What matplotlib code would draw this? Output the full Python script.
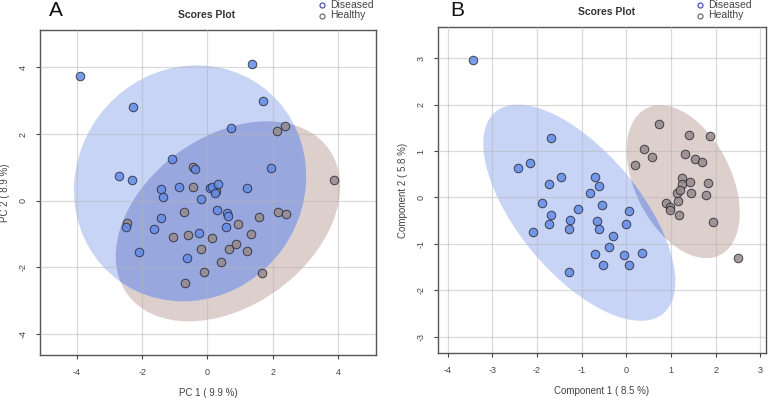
import numpy as np
import matplotlib
matplotlib.use("Agg")
import matplotlib.pyplot as plt
from matplotlib.patches import Ellipse

plt.rcParams['font.family'] = ['Liberation Sans', 'DejaVu Sans']

# ---------------- data ----------------
# Panel A (PCA)
a_dis_x = [-3.91, 1.37, -2.27, 1.70, 0.72, -1.09, -0.38, 1.96, -2.71, -2.32, -1.42, -0.88,
           0.08, 0.15, 0.32, 0.24, 1.23, -1.35, -0.20, 0.30, 0.59, 0.64, -2.50, -1.42,
           -1.64, 0.57, -0.26, -2.09, -0.62]
a_dis_y = [3.74, 4.11, 2.80, 2.98, 2.19, 1.26, 0.94, 0.98, 0.73, 0.62, 0.36, 0.41,
           0.38, 0.42, 0.50, 0.24, 0.39, 0.10, 0.06, -0.28, -0.36, -0.46, -0.78, -0.52,
           -0.84, -0.80, -0.98, -1.53, -1.73]
a_hea_x = [2.14, 2.38, -0.43, 3.88, -0.45, 0.26, -0.71, 1.58, 2.16, 2.40, -2.46, 0.93,
           -1.06, -0.58, 0.14, 1.35, -0.18, 0.66, 0.89, 1.21, 0.41, -0.09, 1.67, -0.70]
a_hea_y = [2.10, 2.24, 1.00, 0.62, 0.40, 0.29, -0.33, -0.50, -0.33, -0.39, -0.66, -0.69,
           -1.08, -1.03, -1.12, -1.01, -1.46, -1.46, -1.30, -1.52, -1.84, -2.13, -2.16, -2.48]

# Panel B (PLS-DA)
b_dis_x = [-3.43, -1.68, -2.42, -2.15, -1.73, -1.45, -0.69, -0.60, -0.82, -1.88,
           -1.69, -1.72, -2.09, -1.07, -0.54, 0.07, -1.26, -1.28, -0.65, -0.61,
           0.00, -0.30, -0.39, -0.69, -0.05, 0.35, -0.51, 0.06, -1.28]
b_dis_y = [2.96, 1.29, 0.64, 0.75, 0.30, 0.43, 0.45, 0.24, 0.10, -0.11,
           -0.38, -0.57, -0.74, -0.24, -0.16, -0.29, -0.48, -0.67, -0.50, -0.69,
           -0.58, -0.83, -1.07, -1.22, -1.24, -1.20, -1.45, -1.45, -1.61]
b_hea_x = [0.74, 1.40, 1.88, 0.40, 0.58, 1.31, 1.53, 1.69, 0.20, 1.25, 1.25, 1.42,
           1.83, 1.14, 1.20, 1.46, 1.78, 0.90, 0.98, 0.98, 1.16, 1.18, 1.95, 2.51]
b_hea_y = [1.58, 1.35, 1.32, 1.05, 0.87, 0.94, 0.82, 0.77, 0.69, 0.41, 0.28, 0.33,
           0.31, 0.10, 0.15, 0.09, 0.06, -0.11, -0.21, -0.27, -0.08, -0.38, -0.53, -1.31]

# Ellipses: centre x, centre y, var x, var y, cov xy
a_dis_ell = [-0.53, 0.52, 12.67, 12.53, 0.75]
a_hea_ell = [0.63, -0.62, 11.83, 9.00, 3.60]
b_dis_ell = [-1.05, -0.33, 4.62, 5.43, -3.2]
b_hea_ell = [1.275, 0.34, 1.60, 2.72, -0.85]

a_xticks = [-4, -2, 0, 2, 4]
a_yticks = [-4, -2, 0, 2, 4]
b_xticks = [-4, -3, -2, -1, 0, 1, 2, 3]
b_yticks = [-3, -2, -1, 0, 1, 2, 3]

groups = ["Diseased", "Healthy"]

# ---------------- styling ----------------
col_dis_pt = "#638be6"
col_hea_pt = "#958a89"
col_dis_ell = "#c8d4f6"
col_hea_ell = "#ddcfcc"
col_overlap = "#98a7dd"
edge = "#2a2a3a"

fig = plt.figure(figsize=(7.77, 3.98), dpi=100)


def make_ellipse(p, color, z):
    cx, cy, sxx, syy, sxy = p
    cov = np.array([[sxx, sxy], [sxy, syy]])
    vals, vecs = np.linalg.eigh(cov)
    order = vals.argsort()[::-1]
    vals, vecs = vals[order], vecs[:, order]
    ang = np.degrees(np.arctan2(vecs[1, 0], vecs[0, 0]))
    return Ellipse((cx, cy), 2 * np.sqrt(vals[0]), 2 * np.sqrt(vals[1]), angle=ang,
                   facecolor=color, edgecolor='none', zorder=z)


def panel(rect, dx, dy, hx, hy, ell_d, ell_h, xt, yt, xlim, ylim, xlabel, ylabel):
    ax = fig.add_axes(rect)
    ax.set_xlim(*xlim)
    ax.set_ylim(*ylim)
    ax.set_xticks(xt)
    ax.set_yticks(yt)
    ax.set_xticklabels([str(v) for v in xt])
    ax.set_yticklabels([str(v) for v in yt], rotation=90, va='center')
    ax.set_axisbelow(False)
    ax.grid(True, color="#b5b5b5", lw=0.9, alpha=0.5, zorder=2)
    eh = make_ellipse(ell_h, col_hea_ell, 1.0)
    ed = make_ellipse(ell_d, col_dis_ell, 1.1)
    eo = make_ellipse(ell_d, col_overlap, 1.2)
    ax.add_patch(eh)
    ax.add_patch(ed)
    ax.add_patch(eo)
    eo.set_clip_path(eh)
    ax.scatter(hx, hy, s=38, c=col_hea_pt, edgecolors=edge, linewidths=0.7, alpha=0.85, zorder=3)
    ax.scatter(dx, dy, s=38, c=col_dis_pt, edgecolors=edge, linewidths=0.7, alpha=0.85, zorder=3)
    for s in ax.spines.values():
        s.set_color("#555555")
        s.set_linewidth(1.0)
    ax.tick_params(axis='both', labelsize=6.5, colors="#444444", length=3, width=0.8, pad=6)
    ax.set_xlabel(xlabel, fontsize=7, color="#444444", labelpad=8)
    ax.set_ylabel(ylabel, fontsize=7, color="#444444", labelpad=6)
    return ax


axA = panel([0.0515, 0.108, 0.4324, 0.8166], a_dis_x, a_dis_y, a_hea_x, a_hea_y,
            a_dis_ell, a_hea_ell, a_xticks, a_yticks, (-5.13, 5.17), (-4.63, 5.12),
            "PC 1 ( 9.9 %)", "PC 2 ( 8.9 %)")
axB = panel([0.5633, 0.1123, 0.4221, 0.8206], b_dis_x, b_dis_y, b_hea_x, b_hea_y,
            b_dis_ell, b_hea_ell, b_xticks, b_yticks, (-4.22, 3.12), (-3.36, 3.68),
            "Component 1 ( 8.5 %)", "Component 2 ( 5.8 %)")

# titles and panel labels
fig.text(207 / 777, 1 - 15 / 398, "Scores Plot", ha='center', va='center',
         fontsize=7.5, fontweight='bold', color="#333333")
fig.text(607 / 777, 1 - 12 / 398, "Scores Plot", ha='center', va='center',
         fontsize=7.5, fontweight='bold', color="#333333")
fig.text(56 / 777, 1 - 11 / 398, "A", ha='center', va='center', fontsize=15, color="#111111")
fig.text(457 / 777, 1 - 11 / 398, "B", ha='center', va='center', fontsize=15, color="#111111")

# legends
leg_cols = ["#4b55b0", "#7a6e6e"]
for lx, ly0 in [(322, 5), (700, 5)]:
    for i, g in enumerate(groups):
        y = 1 - (ly0 + i * 10.5) / 398
        fig.lines.append(plt.Line2D([lx / 777], [y], marker='o', markersize=3.6,
                                    markerfacecolor='none', markeredgecolor=leg_cols[i],
                                    markeredgewidth=0.9, transform=fig.transFigure))
        fig.text((lx + 8) / 777, y, g, ha='left', va='center', fontsize=7.5, color="#444444")

fig.savefig("out.png", dpi=100)
